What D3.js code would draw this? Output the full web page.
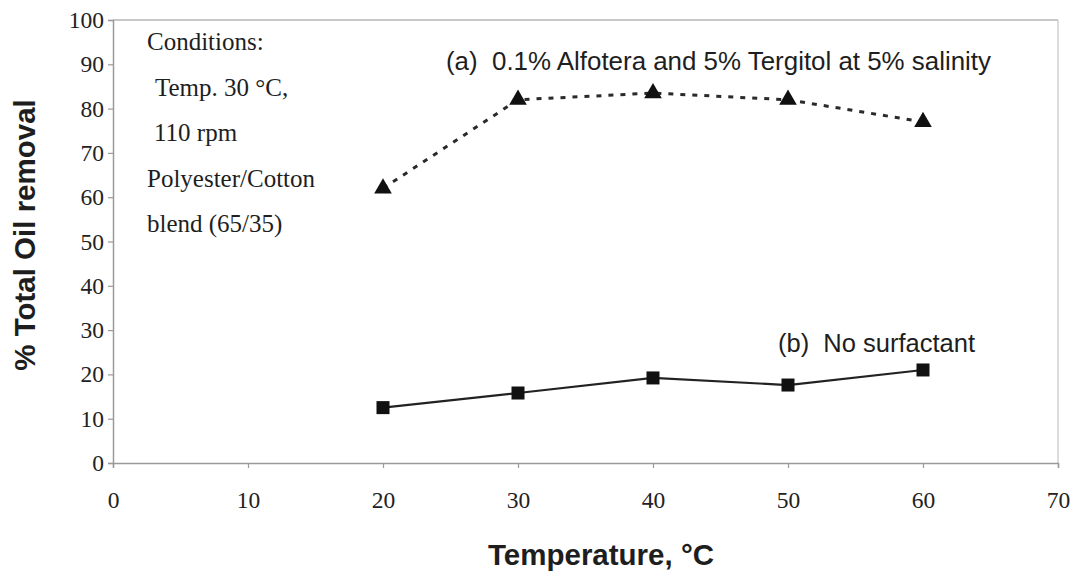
<!DOCTYPE html>
<html>
<head>
<meta charset="utf-8">
<script src="https://cdn.jsdelivr.net/npm/d3@7/dist/d3.min.js"></script>
<style>
  html, body { margin: 0; padding: 0; background: #fff; }
  svg { display: block; }
</style>
</head>
<body>
<svg id="chart" width="1082" height="577"></svg>
<script>
// Temperature (°C) at which each wash was run
const temperatures = [20, 30, 40, 50, 60];
// (a) 0.1% Alfotera + 5% Tergitol at 5% salinity
const surfactantRemoval = [62, 82, 83.5, 82, 77];
// (b) water only
const noSurfactantRemoval = [12.5, 15.8, 19.2, 17.6, 21];

const xTicks = [0, 10, 20, 30, 40, 50, 60, 70];
const yTicks = [0, 10, 20, 30, 40, 50, 60, 70, 80, 90, 100];

const conditionLines = [
  { text: "Conditions:", indent: 0 },
  { text: "Temp. 30 °C,", indent: 8 },
  { text: "110 rpm", indent: 7 },
  { text: "Polyester/Cotton", indent: 0 },
  { text: "blend (65/35)", indent: 0 }
];

const svg = d3.select("#chart");
const margin = { left: 113, right: 24, top: 20, bottom: 114 };
const W = 1082, H = 577;

const x = d3.scaleLinear().domain([0, 70]).range([margin.left, W - margin.right]);
const y = d3.scaleLinear().domain([0, 100]).range([H - margin.bottom, margin.top]);

const ink = "#1e1e1e";
const frame = "#9a9a9a";

// plot frame (top and right edges are faint)
svg.append("line")
  .attr("x1", x(0)).attr("x2", x(70)).attr("y1", y(100)).attr("y2", y(100))
  .attr("stroke", "#b5b5b5").attr("stroke-width", 1.5);
svg.append("line")
  .attr("x1", x(70)).attr("x2", x(70)).attr("y1", y(100)).attr("y2", y(0))
  .attr("stroke", "#c4c4c4").attr("stroke-width", 1.2);

// y axis
const yAxis = svg.append("g")
  .attr("transform", `translate(${x(0)},0)`)
  .call(d3.axisLeft(y).tickValues(yTicks).tickSize(5).tickPadding(4));
// x axis
const xAxis = svg.append("g")
  .attr("transform", `translate(0,${y(0)})`)
  .call(d3.axisBottom(x).tickValues(xTicks).tickSize(5).tickPadding(23));

[yAxis, xAxis].forEach(g => {
  g.select(".domain").attr("stroke", frame).attr("stroke-width", 1.5);
  g.selectAll(".tick line").attr("stroke", frame).attr("stroke-width", 1.2);
  g.selectAll(".tick text")
    .attr("fill", "#222")
    .style("font-family", "'Liberation Serif', 'Times New Roman', serif")
    .style("font-size", "23.5px");
});

// axis titles
svg.append("text")
  .attr("x", 601)
  .attr("y", 565)
  .attr("text-anchor", "middle")
  .attr("fill", ink)
  .style("font-family", "'Liberation Sans', Arial, sans-serif")
  .style("font-weight", "bold")
  .style("font-size", "29.5px")
  .text("Temperature, °C");

svg.append("text")
  .attr("transform", `translate(35,235) rotate(-90)`)
  .attr("text-anchor", "middle")
  .attr("fill", ink)
  .style("font-family", "'Liberation Sans', Arial, sans-serif")
  .style("font-weight", "bold")
  .style("font-size", "29.5px")
  .text("% Total Oil removal");

// series (a): dotted line with triangles
const line = d3.line().x(d => x(d[0])).y(d => y(d[1]));
const seriesA = temperatures.map((t, i) => [t, surfactantRemoval[i]]);
const seriesB = temperatures.map((t, i) => [t, noSurfactantRemoval[i]]);

svg.append("path")
  .datum(seriesA)
  .attr("d", line)
  .attr("fill", "none")
  .attr("stroke", "#2a2a2a")
  .attr("stroke-width", 3)
  .attr("stroke-dasharray", "5 7");

const tri = d3.symbol().type(d3.symbolTriangle).size(135);
svg.selectAll(".tri")
  .data(seriesA)
  .join("path")
  .attr("class", "tri")
  .attr("d", tri)
  .attr("transform", d => `translate(${x(d[0])},${y(d[1])})`)
  .attr("fill", "#111");

// series (b): solid line with squares
svg.append("path")
  .datum(seriesB)
  .attr("d", line)
  .attr("fill", "none")
  .attr("stroke", "#222")
  .attr("stroke-width", 2.2);

svg.selectAll(".sq")
  .data(seriesB)
  .join("rect")
  .attr("class", "sq")
  .attr("x", d => x(d[0]) - 6.5)
  .attr("y", d => y(d[1]) - 6.5)
  .attr("width", 13)
  .attr("height", 13)
  .attr("fill", "#111");

// series labels
const sans = "'Liberation Sans', Arial, sans-serif";
svg.append("text")
  .attr("x", 446).attr("y", 70)
  .attr("fill", ink)
  .style("font-family", sans)
  .style("font-size", "25.9px")
  .style("white-space", "pre")
  .text("(a)  0.1% Alfotera and 5% Tergitol at 5% salinity");

svg.append("text")
  .attr("x", 778).attr("y", 352)
  .attr("fill", ink)
  .style("font-family", sans)
  .style("font-size", "25.5px")
  .style("white-space", "pre")
  .text("(b)  No surfactant");

// experimental conditions note
svg.append("g")
  .selectAll("text")
  .data(conditionLines)
  .join("text")
  .attr("x", d => 147 + d.indent)
  .attr("y", (d, i) => 50 + i * 45.5)
  .attr("fill", ink)
  .style("font-family", "'Liberation Serif', 'Times New Roman', serif")
  .style("font-size", "25px")
  .text(d => d.text);
</script>
</body>
</html>
